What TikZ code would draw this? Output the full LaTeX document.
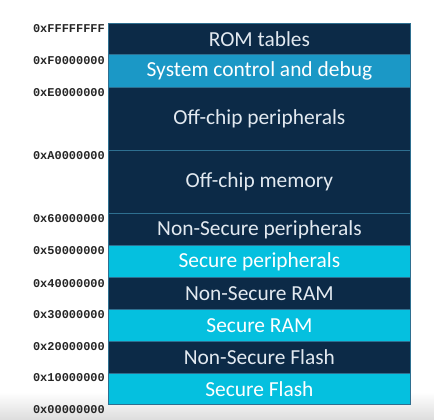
\documentclass[tikz,border=0pt]{standalone}
\usepackage{fontspec}
\setmainfont{Carlito}
\newfontfamily\addrfont{Liberation Mono}
\begin{document}
\definecolor{navy}{HTML}{0C2A47}
\definecolor{sysblue}{HTML}{1B98C6}
\definecolor{secblue}{HTML}{05C0DF}
\definecolor{edge}{HTML}{2E6F90}
\definecolor{lighttext}{HTML}{E2E9F0}
\begin{tikzpicture}[x=1bp,y=-1bp,
  band/.style={draw=edge, line width=0.8bp, anchor=north west, minimum width=302bp,
    inner sep=0pt, font=\fontsize{21.5}{23}\selectfont},
  nsband/.style={band, fill=navy, text=lighttext},
  sysband/.style={band, fill=sysblue, text=white},
  sband/.style={band, fill=secblue, text=white},
  addr/.style={anchor=east, inner sep=0pt, font=\addrfont\bfseries\fontsize{12}{12}\selectfont, text=black!85}]
  \useasboundingbox (0,0) rectangle (434,419);
  \fill[white] (0,0) rectangle (434,419);
  % soft grey strip along the lower edge
  \shade[top color=white, bottom color=black!13] (0,392) rectangle (434,419);

  % memory regions, top to bottom
  \node[nsband,  minimum height=31bp] (rom)   at (108,23)  {ROM tables};
  \node[sysband, minimum height=33bp] (sys)   at (108,54)  {System control and debug};
  \node[nsband,  minimum height=63bp] (ocp)   at (108,87)  {Off-chip peripherals};
  \node[nsband,  minimum height=63bp] (ocm)   at (108,150) {Off-chip memory};
  \node[nsband,  minimum height=32bp] (nsp)   at (108,213) {Non-Secure peripherals};
  \node[sband,   minimum height=32bp] (sp)    at (108,245) {Secure peripherals};
  \node[nsband,  minimum height=32bp] (nsram) at (108,277) {Non-Secure RAM};
  \node[sband,   minimum height=32bp] (sram)  at (108,309) {Secure RAM};
  \node[nsband,  minimum height=32bp] (nsfl)  at (108,341) {Non-Secure Flash};
  \node[sband,   minimum height=31bp] (sfl)   at (108,373) {Secure Flash};

  % boundary addresses
  \node[addr] (a0) at (105,29)  {0xFFFFFFFF};
  \node[addr] (a1) at (105,61)  {0xF0000000};
  \node[addr] (a2) at (105,93)  {0xE0000000};
  \node[addr] (a3) at (105,156) {0xA0000000};
  \node[addr] (a4) at (105,219) {0x60000000};
  \node[addr] (a5) at (105,251) {0x50000000};
  \node[addr] (a6) at (105,284) {0x40000000};
  \node[addr] (a7) at (105,315) {0x30000000};
  \node[addr] (a8) at (105,347) {0x20000000};
  \node[addr] (a9) at (105,378) {0x10000000};
  \node[addr] (a10) at (105,410) {0x00000000};
\end{tikzpicture}
\end{document}
